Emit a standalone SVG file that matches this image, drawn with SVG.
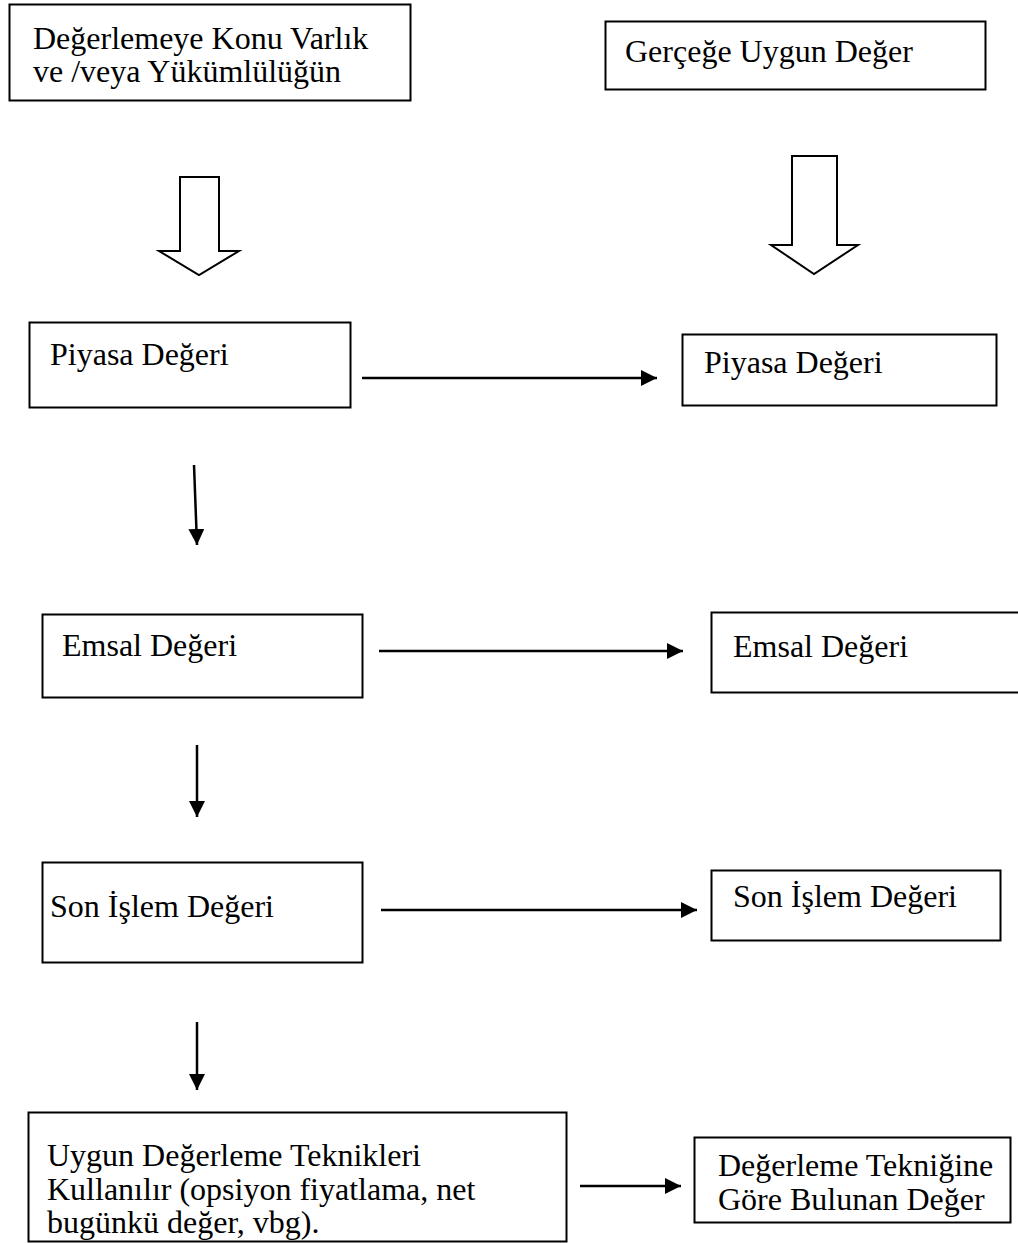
<svg xmlns="http://www.w3.org/2000/svg" width="1018" height="1243" viewBox="0 0 1018 1243">
<style>
rect.box{fill:#fff;stroke:#000;stroke-width:2}
text{font-family:"Liberation Serif","Times New Roman",serif;font-size:32px;fill:#000}
.block{fill:#fff;stroke:#000;stroke-width:2;stroke-linejoin:miter}
.conn{stroke:#000;stroke-width:2.5;fill:none}
</style>
<defs>
<marker id="ah" viewBox="0 0 10 10" refX="10" refY="5" markerWidth="16" markerHeight="16" markerUnits="userSpaceOnUse" orient="auto">
<path d="M0,0 L10,5 L0,10 z" fill="#000"/>
</marker>
</defs>
<rect width="1018" height="1243" fill="#fff"/>
<g id="n-varlik"><rect class="box" x="9.5" y="4.5" width="401" height="96"/><text x="33" y="49">Değerlemeye Konu Varlık</text><text x="33" y="82">ve /veya Yükümlülüğün</text></g>
<g id="n-gercege"><rect class="box" x="605.5" y="21.5" width="380" height="68"/><text x="625" y="62">Gerçeğe Uygun Değer</text></g>
<g id="n-blockarrow-left"><polygon class="block" points="180,177 219,177 219,251 239,251 199,275 159,251 180,251"/></g>
<g id="n-blockarrow-right"><polygon class="block" points="792,156 837,156 837,245 858,245 814,274 771,245 792,245"/></g>
<g id="n-piyasa-l"><rect class="box" x="29.5" y="322.5" width="321" height="85"/><text x="50" y="365">Piyasa Değeri</text></g>
<g id="n-piyasa-r"><rect class="box" x="682.5" y="334.5" width="314" height="71"/><text x="704" y="373">Piyasa Değeri</text></g>
<g id="n-emsal-l"><rect class="box" x="42.5" y="614.5" width="320" height="83"/><text x="62" y="656">Emsal Değeri</text></g>
<g id="n-emsal-r"><rect class="box" x="711.5" y="612.5" width="330" height="80"/><text x="733" y="657">Emsal Değeri</text></g>
<g id="n-son-l"><rect class="box" x="42.5" y="862.5" width="320" height="100"/><text x="50" y="917" font-size="33">Son İşlem Değeri</text></g>
<g id="n-son-r"><rect class="box" x="711.5" y="870.5" width="289" height="70"/><text x="733" y="907">Son İşlem Değeri</text></g>
<g id="n-uygun"><rect class="box" x="28.5" y="1112.5" width="538" height="129"/><text x="47" y="1166">Uygun Değerleme Teknikleri</text><text x="47" y="1200">Kullanılır (opsiyon fiyatlama, net</text><text x="47" y="1233">bugünkü değer, vbg).</text></g>
<g id="n-teknik"><rect class="box" x="694.5" y="1137.5" width="316" height="85"/><text x="718" y="1176">Değerleme Tekniğine</text><text x="718" y="1210">Göre Bulunan Değer</text></g>
<g id="connectors">
<line class="conn" x1="362" y1="378" x2="657" y2="378" marker-end="url(#ah)"/>
<line class="conn" x1="379" y1="651" x2="683" y2="651" marker-end="url(#ah)"/>
<line class="conn" x1="381" y1="910" x2="697" y2="910" marker-end="url(#ah)"/>
<line class="conn" x1="580" y1="1186" x2="681" y2="1186" marker-end="url(#ah)"/>
<line class="conn" x1="194" y1="465" x2="197" y2="545" marker-end="url(#ah)"/>
<line class="conn" x1="197" y1="745" x2="197" y2="817" marker-end="url(#ah)"/>
<line class="conn" x1="197" y1="1022" x2="197" y2="1090" marker-end="url(#ah)"/>
</g>
</svg>
